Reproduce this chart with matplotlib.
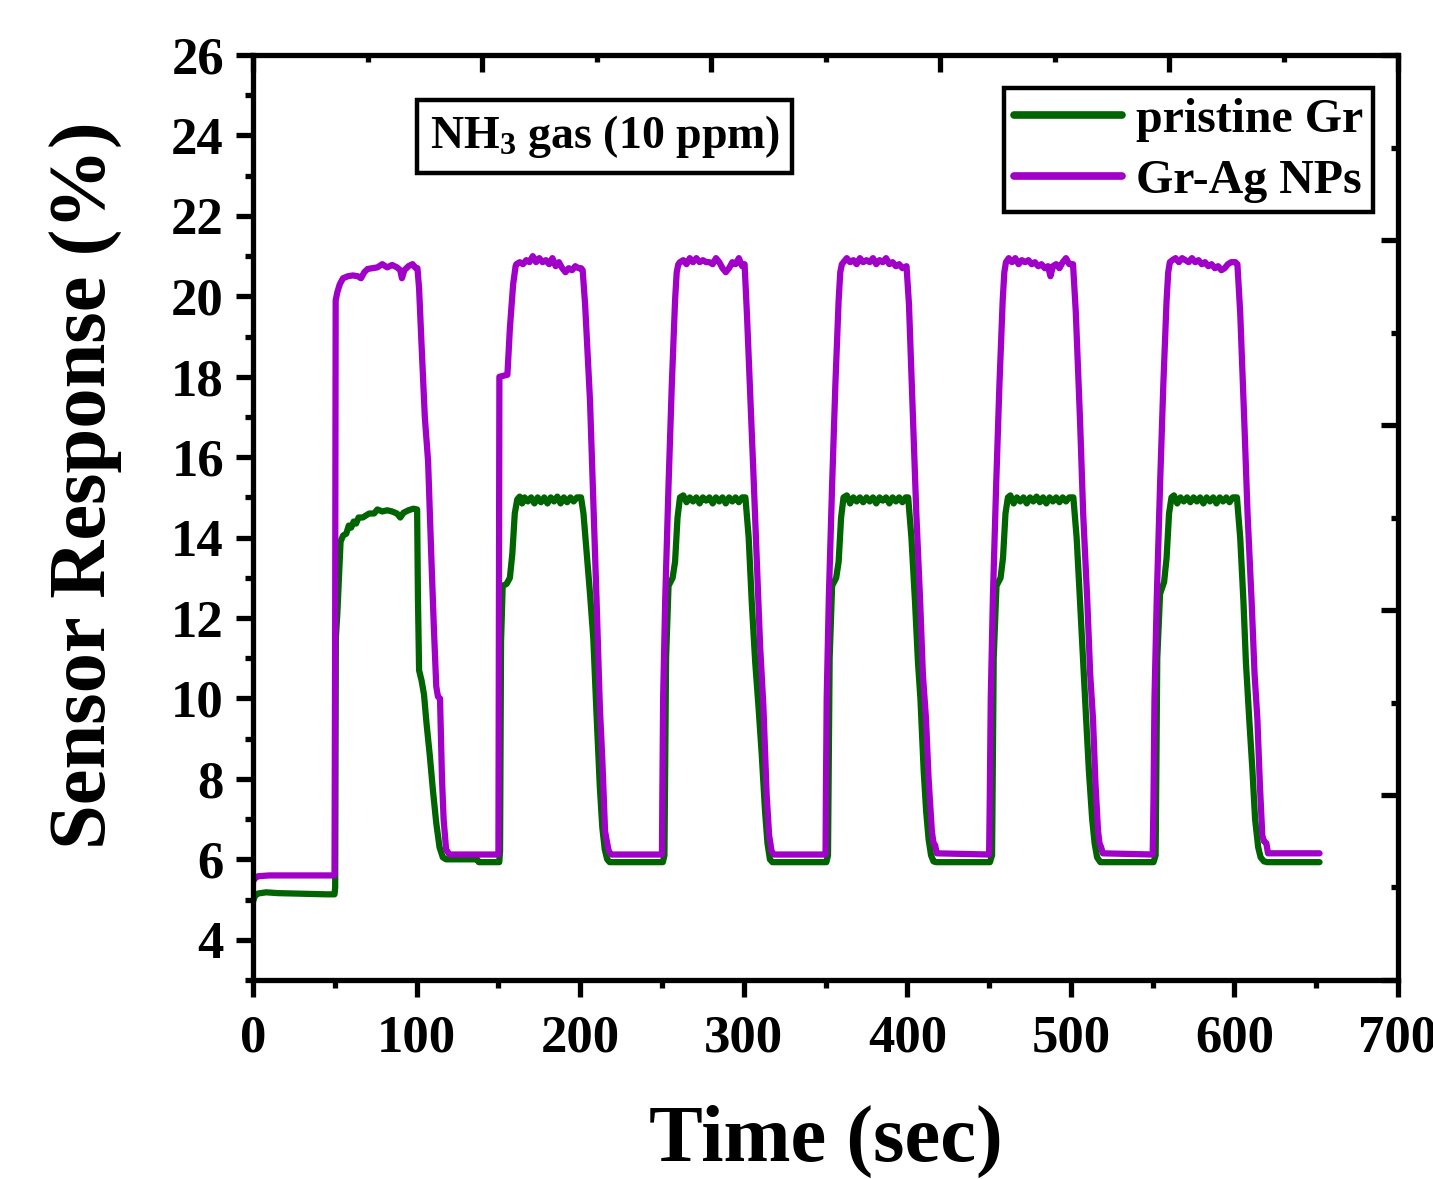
import matplotlib
matplotlib.use("Agg")
import matplotlib.pyplot as plt
from matplotlib.ticker import MultipleLocator

plt.rcParams["font.family"] = "Liberation Serif"
plt.rcParams["font.weight"] = "bold"
plt.rcParams["mathtext.fontset"] = "custom"
plt.rcParams["mathtext.rm"] = "Liberation Serif:bold"
plt.rcParams["mathtext.default"] = "rm"

# (time s, response %)
pristine_gr = [
    (0, 4.95), (1, 5.08), (3, 5.15), (8, 5.18), (15, 5.16), (25, 5.15), (35, 5.14), (45, 5.13), (49.8, 5.13),
    # cycle 1
    (50.2, 5.3), (50.6, 11.5), (51.5, 12.1), (52.5, 13.0), (53.5, 13.9), (55, 14.05), (57, 14.1), (58.5, 14.3),
    (60, 14.25), (61.5, 14.4), (63, 14.35), (64.5, 14.5), (67, 14.5), (69, 14.55), (71, 14.6), (74, 14.6),
    (76, 14.7), (79, 14.65), (82, 14.68), (85, 14.65), (88, 14.6), (90, 14.5), (92, 14.62), (95, 14.68),
    (98, 14.72), (100.3, 14.7), (100.8, 12.5), (101.5, 10.7), (103, 10.45), (104.5, 10.1), (106, 9.4),
    (108, 8.6), (110, 7.7), (112, 6.9), (114, 6.3), (116, 6.05), (118, 6.0), (128, 6.0), (137, 6.0),
    (138, 5.93), (150.5, 5.93),
    # cycle 2
    (151, 6.2), (151.6, 11.4), (152.6, 12.8), (155, 12.85), (157, 13.0), (158.5, 13.6), (160, 14.6),
    (161.5, 14.95), (163, 15.02), (164.5, 14.85), (166, 15.0), (168, 14.9), (170, 15.0), (172, 14.85),
    (174, 15.0), (176, 14.88), (178, 15.0), (180, 14.85), (182, 15.0), (184, 14.9), (186, 15.02),
    (188, 14.85), (190, 15.0), (192, 14.88), (194, 15.0), (196, 14.9), (198, 15.0), (200.5, 15.0),
    (202, 14.6), (204, 13.6), (206, 12.6), (208, 11.5), (210, 9.6), (212, 7.8), (213.5, 6.8), (215, 6.25),
    (216.5, 6.0), (218, 5.93), (250.5, 5.93),
    # cycle 3
    (251.5, 6.1), (252.5, 11.0), (254, 12.8), (256.5, 13.0), (258, 13.4), (259.5, 14.5), (261, 15.0),
    (263, 15.05), (265, 14.88), (267, 15.0), (269, 14.9), (271, 15.0), (273, 14.85), (275, 15.0),
    (277, 14.92), (279, 15.0), (281, 14.85), (283, 15.0), (285, 14.9), (287, 15.0), (289, 14.85),
    (291, 15.0), (293, 14.9), (295, 15.0), (297, 14.88), (299, 15.0), (301, 15.0), (303, 14.0),
    (305, 12.3), (307, 10.9), (309, 9.8), (311, 8.6), (313, 7.2), (314.5, 6.4), (316, 6.0), (317.5, 5.93),
    (350.5, 5.93),
    # cycle 4
    (351.5, 6.1), (352.5, 11.0), (354, 12.8), (356.5, 13.0), (358, 13.4), (359.5, 14.5), (361, 15.0),
    (363, 15.05), (365, 14.85), (367, 15.0), (369, 14.9), (371, 15.0), (373, 14.88), (375, 15.0),
    (377, 14.9), (379, 15.0), (381, 14.85), (383, 15.0), (385, 14.92), (387, 15.0), (389, 14.85),
    (391, 15.0), (393, 14.9), (395, 15.0), (397, 14.88), (399, 15.0), (400.5, 15.0), (402.5, 14.0),
    (404.7, 12.4), (406.5, 10.9), (408, 10.0), (410, 8.2), (411.5, 7.2), (413, 6.5), (414.5, 6.1),
    (416, 5.95), (417.5, 5.93), (450.5, 5.93),
    # cycle 5
    (451.8, 6.1), (452.8, 11.0), (454.5, 12.8), (457, 13.0), (458.5, 13.5), (460, 14.6), (461.5, 15.0),
    (463, 15.05), (465, 14.85), (467, 15.0), (469, 14.9), (471, 15.0), (473, 14.85), (475, 15.0),
    (477, 14.9), (479, 15.02), (481, 14.88), (483, 15.0), (485, 14.85), (487, 15.0), (489, 14.9),
    (491, 15.0), (493, 14.88), (495, 15.0), (497, 14.9), (499, 15.0), (501.5, 15.0), (503.5, 14.0),
    (505.6, 12.4), (507.5, 10.9), (509.3, 9.5), (511, 8.2), (513, 7.0), (514.5, 6.4), (516, 6.05),
    (518, 5.93), (550.5, 5.93),
    # cycle 6
    (551.8, 6.1), (552.8, 11.0), (554.5, 12.6), (557, 12.9), (558.5, 13.5), (560, 14.6), (561.5, 15.0),
    (563, 15.05), (565, 14.85), (567, 15.0), (569, 14.9), (571, 15.0), (573, 14.88), (575, 15.0),
    (577, 14.9), (579, 15.0), (581, 14.85), (583, 15.0), (585, 14.9), (587, 15.0), (589, 14.85),
    (591, 15.0), (593, 14.9), (595, 15.0), (597, 14.88), (599, 15.0), (601.5, 15.0), (603.5, 14.0),
    (605.5, 12.4), (607, 10.9), (609, 9.5), (611, 8.2), (612.6, 7.0), (614.5, 6.3), (616, 6.05),
    (618, 5.95), (620, 5.93), (652, 5.93),
]

gr_ag_nps = [
    (0, 5.45), (1, 5.52), (3, 5.58), (10, 5.6), (25, 5.6), (40, 5.6), (49.8, 5.6),
    # cycle 1
    (50.2, 12.0), (50.5, 19.9), (51.5, 20.1), (53, 20.3), (55, 20.45), (58, 20.5), (61, 20.52), (64, 20.5),
    (66, 20.45), (68, 20.6), (70, 20.68), (73, 20.7), (76, 20.72), (79, 20.8), (82, 20.72), (85, 20.78),
    (88, 20.72), (90, 20.65), (91, 20.45), (92.5, 20.65), (95, 20.75), (97.5, 20.8), (99, 20.72),
    (100.5, 20.7), (101.5, 20.2), (103, 18.8), (105, 17.0), (107, 15.9), (109, 13.5), (110.5, 11.8),
    (112, 10.3), (113, 10.05), (114.3, 10.0), (115.5, 8.0), (116.5, 7.0), (118, 6.25), (120, 6.12),
    (135, 6.12), (150, 6.12),
    # cycle 2
    (150.3, 12.0), (150.6, 18.0), (155.5, 18.05), (157, 19.2), (159, 20.3), (160.5, 20.75),
    (161, 20.8), (163, 20.85), (165, 20.8), (167, 20.9), (169, 20.85), (171, 21.0), (173, 20.85),
    (175, 20.95), (177, 20.85), (179, 20.9), (181, 20.8), (183, 20.95), (185, 20.75), (187, 20.85),
    (189, 20.7), (191, 20.6), (193, 20.7), (195, 20.65), (197, 20.75), (199, 20.7), (200.5, 20.7),
    (201.5, 20.65), (203, 19.8), (206, 17.4), (208, 14.9), (210, 12.45), (212, 9.8), (213.5, 8.5),
    (215.2, 6.7), (216.5, 6.4), (217.5, 6.2), (219, 6.12), (250, 6.12),
    # cycle 3
    (250.2, 7.5), (250.7, 10.0), (252, 12.5), (254, 15.3), (256, 17.8), (258, 19.9), (259, 20.6),
    (260, 20.8), (261, 20.85), (263, 20.9), (265, 20.8), (267, 20.95), (269, 20.85), (271, 20.95),
    (273, 20.85), (275, 20.9), (277, 20.85), (279, 20.85), (281, 20.8), (283, 20.95), (285, 20.85),
    (287, 20.7), (289, 20.6), (291, 20.7), (293, 20.85), (295, 20.8), (297, 20.95), (299, 20.75),
    (300.5, 20.8), (302, 19.5), (304, 17.5), (306, 15.5), (308, 13.4), (310, 11.3), (312, 9.8),
    (314, 7.6), (315.5, 6.6), (317, 6.2), (318.5, 6.12), (350, 6.12),
    # cycle 4
    (350.2, 7.5), (350.7, 10.0), (352, 12.5), (354, 15.3), (356, 17.8), (358, 19.9), (359, 20.6),
    (360, 20.8), (361, 20.85), (363, 20.95), (365, 20.85), (367, 20.9), (369, 20.8), (371, 20.95),
    (373, 20.85), (375, 20.9), (377, 20.85), (379, 20.95), (381, 20.8), (383, 20.9), (385, 20.85),
    (387, 20.95), (389, 20.8), (391, 20.85), (393, 20.75), (395, 20.8), (397, 20.7), (399.5, 20.75),
    (401, 19.8), (403.5, 16.9), (405.5, 14.6), (407.8, 12.45), (409.5, 10.6), (411.4, 9.5), (413, 8.0),
    (415, 6.7), (416, 6.4), (417, 6.35), (418, 6.15), (450, 6.12),
    # cycle 5
    (450.4, 7.5), (451, 10.0), (452.3, 12.5), (454.3, 15.3), (456.3, 17.8), (458.3, 19.9), (459.3, 20.6),
    (460.3, 20.85), (462, 20.95), (464, 20.85), (466, 20.95), (468, 20.8), (470, 20.9), (472, 20.85),
    (474, 20.9), (476, 20.8), (478, 20.85), (480, 20.75), (482, 20.8), (484, 20.7), (486, 20.75),
    (487.5, 20.5), (489, 20.75), (491, 20.8), (493, 20.7), (495, 20.85), (497, 20.95), (499, 20.8),
    (501.3, 20.8), (503, 19.6), (505.6, 16.9), (507.5, 14.6), (510, 12.45), (511.8, 10.6), (513.5, 9.5),
    (515, 7.9), (516.6, 6.7), (517.5, 6.4), (518.5, 6.3), (519.5, 6.15), (550, 6.12),
    # cycle 6
    (550.5, 7.5), (551.1, 10.0), (552.5, 12.5), (554.5, 15.3), (556.5, 17.8), (558.5, 19.9), (559.5, 20.6),
    (560.5, 20.85), (562, 20.9), (564, 20.95), (566, 20.85), (568, 20.95), (570, 20.9), (572, 20.85),
    (574, 20.95), (576, 20.85), (578, 20.9), (580, 20.8), (582, 20.85), (584, 20.75), (586, 20.8),
    (588, 20.7), (590, 20.75), (592, 20.65), (594, 20.7), (596, 20.8), (598, 20.85), (600.5, 20.85),
    (601.8, 20.8), (603.5, 19.6), (606, 16.9), (608, 14.6), (610.5, 12.4), (612.3, 10.6), (614, 9.5),
    (615.5, 7.9), (617, 6.6), (618, 6.45), (619.5, 6.4), (620.5, 6.15), (652, 6.15),
]

t_gr, r_gr = zip(*pristine_gr)
t_ag, r_ag = zip(*gr_ag_nps)

GREEN = "#006400"
PURPLE = "#A000C8"
LW_AX = 3.8

fig = plt.figure(figsize=(14.33, 11.79), dpi=100)
pos = [0.1766, 0.1688, 0.799, 0.7845]
ax = fig.add_axes(pos)

ax.plot(t_gr, r_gr, color=GREEN, lw=4.5, label="pristine Gr", solid_capstyle="round")
ax.plot(t_ag, r_ag, color=PURPLE, lw=4.5, label="Gr-Ag NPs", solid_capstyle="round")

ax.set_xlim(0, 700)
ax.set_ylim(3, 26)
ax.xaxis.set_major_locator(MultipleLocator(100))
ax.xaxis.set_minor_locator(MultipleLocator(50))
ax.yaxis.set_major_locator(MultipleLocator(2))
ax.yaxis.set_minor_locator(MultipleLocator(1))
ax.tick_params(which="both", direction="out", width=LW_AX, top=False, right=False)
ax.tick_params(which="major", length=12, labelsize=38)
ax.tick_params(which="minor", length=6)
ax.tick_params(axis="x", which="major", pad=13)
ax.tick_params(axis="y", which="major", pad=9)
for s in ax.spines.values():
    s.set_linewidth(LW_AX)

ax.set_xlabel("Time (sec)", fontsize=58, fontweight="bold")
ax.set_ylabel("Sensor Response (%)", fontsize=58, fontweight="bold")
ax.xaxis.set_label_coords(0.5, -0.135)
ax.yaxis.set_label_coords(-0.114, 0.535)

# top / right axes carry their own unlabeled inward ticks
ax2 = fig.add_axes(pos, frameon=False)
ax2.set_xlim(0, 10)
ax2.set_ylim(0, 10)
ax2.xaxis.tick_top()
ax2.yaxis.tick_right()
for a in (ax2.xaxis, ax2.yaxis):
    a.set_major_locator(MultipleLocator(2))
    a.set_minor_locator(MultipleLocator(1))
ax2.tick_params(which="both", direction="in", width=LW_AX, labeltop=False, labelright=False)
ax2.tick_params(which="major", length=12)
ax2.tick_params(which="minor", length=5)
ax2.patch.set_visible(False)

ax.text(0.307, 0.912, r"NH$_3$ gas (10 ppm)", transform=ax.transAxes, fontsize=33,
        fontweight="bold", ha="center", va="center",
        bbox=dict(boxstyle="square,pad=0.28", fc="white", ec="black", lw=3.2))

leg = ax.legend(loc="upper right", bbox_to_anchor=(0.978, 0.964), borderaxespad=0,
                fontsize=34.5, handlelength=2.25, handletextpad=0.3, borderpad=0.2,
                labelspacing=0.35, fancybox=False, framealpha=1)
leg.get_frame().set_edgecolor("black")
leg.get_frame().set_linewidth(3.2)
for h in leg.get_lines():
    h.set_linewidth(5.5)

fig.savefig("out.png", dpi=100)
